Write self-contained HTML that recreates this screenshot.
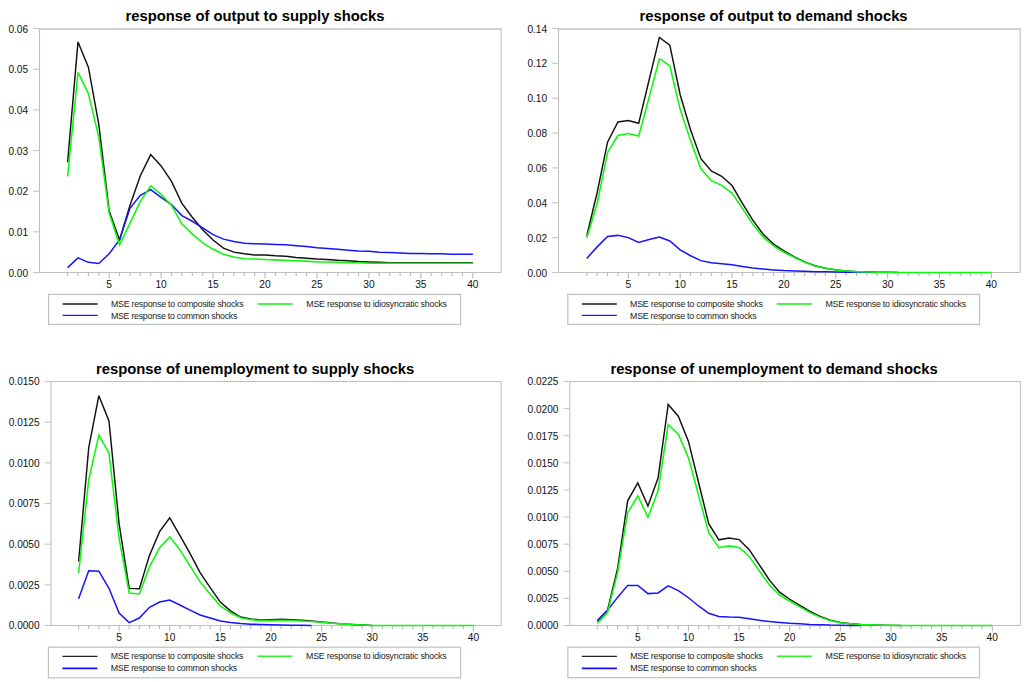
<!DOCTYPE html>
<html><head><meta charset="utf-8"><style>
html,body{margin:0;padding:0;background:#fff;}
svg{display:block;}
text{font-family:"Liberation Sans",sans-serif;}
.tt{font-weight:bold;font-size:14.8px;text-anchor:middle;fill:#000;}
.yl{font-size:10.1px;text-anchor:end;fill:#111;}
.xl{font-size:10.2px;text-anchor:middle;fill:#111;}
.lg{font-size:8.8px;fill:#222;}
</style></head><body>
<svg width="1024" height="682" viewBox="0 0 1024 682">
<rect width="1024" height="682" fill="#fff"/>
<path d="M39.5 29H501.2" fill="none" stroke="#d2d2d2" stroke-width="2"/>
<path d="M501.2 28.5V272.5" fill="none" stroke="#c0c0c0" stroke-width="1.1"/>
<path d="M39.5 28.5V272.5" fill="none" stroke="#c0c0c0" stroke-width="1.1"/>
<path d="M33.2 272.5H501.2" fill="none" stroke="#c0c0c0" stroke-width="1.1"/>
<path d="M33.2 272.5H39.5" stroke="#c6c6c6" stroke-width="1.1"/>
<text x="28.1" y="276.5" class="yl">0.00</text>
<path d="M33.2 231.83H39.5" stroke="#c6c6c6" stroke-width="1.1"/>
<text x="28.1" y="235.83" class="yl">0.01</text>
<path d="M33.2 191.17H39.5" stroke="#c6c6c6" stroke-width="1.1"/>
<text x="28.1" y="195.17" class="yl">0.02</text>
<path d="M33.2 150.5H39.5" stroke="#c6c6c6" stroke-width="1.1"/>
<text x="28.1" y="154.5" class="yl">0.03</text>
<path d="M33.2 109.83H39.5" stroke="#c6c6c6" stroke-width="1.1"/>
<text x="28.1" y="113.83" class="yl">0.04</text>
<path d="M33.2 69.17H39.5" stroke="#c6c6c6" stroke-width="1.1"/>
<text x="28.1" y="73.17" class="yl">0.05</text>
<path d="M33.2 28.5H39.5" stroke="#c6c6c6" stroke-width="1.1"/>
<text x="28.1" y="32.5" class="yl">0.06</text>
<path d="M67.6 272.5V275.9" stroke="#b8b8b8" stroke-width="1.1"/>
<path d="M77.99 272.5V275.9" stroke="#b8b8b8" stroke-width="1.1"/>
<path d="M88.38 272.5V275.9" stroke="#b8b8b8" stroke-width="1.1"/>
<path d="M98.77 272.5V275.9" stroke="#b8b8b8" stroke-width="1.1"/>
<path d="M109.16 272.5V278.6" stroke="#b8b8b8" stroke-width="1.1"/>
<text x="109.16" y="287.7" class="xl">5</text>
<path d="M119.55 272.5V275.9" stroke="#b8b8b8" stroke-width="1.1"/>
<path d="M129.94 272.5V275.9" stroke="#b8b8b8" stroke-width="1.1"/>
<path d="M140.33 272.5V275.9" stroke="#b8b8b8" stroke-width="1.1"/>
<path d="M150.72 272.5V275.9" stroke="#b8b8b8" stroke-width="1.1"/>
<path d="M161.11 272.5V278.6" stroke="#b8b8b8" stroke-width="1.1"/>
<text x="161.11" y="287.7" class="xl">10</text>
<path d="M171.5 272.5V275.9" stroke="#b8b8b8" stroke-width="1.1"/>
<path d="M181.89 272.5V275.9" stroke="#b8b8b8" stroke-width="1.1"/>
<path d="M192.28 272.5V275.9" stroke="#b8b8b8" stroke-width="1.1"/>
<path d="M202.67 272.5V275.9" stroke="#b8b8b8" stroke-width="1.1"/>
<path d="M213.06 272.5V278.6" stroke="#b8b8b8" stroke-width="1.1"/>
<text x="213.06" y="287.7" class="xl">15</text>
<path d="M223.45 272.5V275.9" stroke="#b8b8b8" stroke-width="1.1"/>
<path d="M233.84 272.5V275.9" stroke="#b8b8b8" stroke-width="1.1"/>
<path d="M244.23 272.5V275.9" stroke="#b8b8b8" stroke-width="1.1"/>
<path d="M254.62 272.5V275.9" stroke="#b8b8b8" stroke-width="1.1"/>
<path d="M265.01 272.5V278.6" stroke="#b8b8b8" stroke-width="1.1"/>
<text x="265.01" y="287.7" class="xl">20</text>
<path d="M275.4 272.5V275.9" stroke="#b8b8b8" stroke-width="1.1"/>
<path d="M285.79 272.5V275.9" stroke="#b8b8b8" stroke-width="1.1"/>
<path d="M296.18 272.5V275.9" stroke="#b8b8b8" stroke-width="1.1"/>
<path d="M306.57 272.5V275.9" stroke="#b8b8b8" stroke-width="1.1"/>
<path d="M316.96 272.5V278.6" stroke="#b8b8b8" stroke-width="1.1"/>
<text x="316.96" y="287.7" class="xl">25</text>
<path d="M327.35 272.5V275.9" stroke="#b8b8b8" stroke-width="1.1"/>
<path d="M337.74 272.5V275.9" stroke="#b8b8b8" stroke-width="1.1"/>
<path d="M348.13 272.5V275.9" stroke="#b8b8b8" stroke-width="1.1"/>
<path d="M358.52 272.5V275.9" stroke="#b8b8b8" stroke-width="1.1"/>
<path d="M368.91 272.5V278.6" stroke="#b8b8b8" stroke-width="1.1"/>
<text x="368.91" y="287.7" class="xl">30</text>
<path d="M379.3 272.5V275.9" stroke="#b8b8b8" stroke-width="1.1"/>
<path d="M389.69 272.5V275.9" stroke="#b8b8b8" stroke-width="1.1"/>
<path d="M400.08 272.5V275.9" stroke="#b8b8b8" stroke-width="1.1"/>
<path d="M410.47 272.5V275.9" stroke="#b8b8b8" stroke-width="1.1"/>
<path d="M420.86 272.5V278.6" stroke="#b8b8b8" stroke-width="1.1"/>
<text x="420.86" y="287.7" class="xl">35</text>
<path d="M431.25 272.5V275.9" stroke="#b8b8b8" stroke-width="1.1"/>
<path d="M441.64 272.5V275.9" stroke="#b8b8b8" stroke-width="1.1"/>
<path d="M452.03 272.5V275.9" stroke="#b8b8b8" stroke-width="1.1"/>
<path d="M462.42 272.5V275.9" stroke="#b8b8b8" stroke-width="1.1"/>
<path d="M472.81 272.5V278.6" stroke="#b8b8b8" stroke-width="1.1"/>
<text x="472.81" y="287.7" class="xl">40</text>
<text x="255" y="20.5" class="tt">response of output to supply shocks</text>
<polyline points="67.6,162.29 77.99,41.92 88.38,67.13 98.77,124.07 109.16,211.09 119.55,239.97 129.94,205.4 140.33,175.71 150.72,154.57 161.11,165.95 171.5,181.41 181.89,203.37 192.28,217.19 202.67,229.8 213.06,239.97 223.45,248.1 233.84,252.17 244.23,253.79 254.62,255.01 265.01,255.01 275.4,255.83 285.79,256.23 296.18,257.45 306.57,258.27 316.96,259.08 327.35,259.49 337.74,260.3 348.13,260.71 358.52,261.52 368.91,261.93 379.3,262.33 389.69,262.74 400.08,262.74 410.47,262.74 420.86,262.74 431.25,262.74 441.64,262.74 452.03,262.74 462.42,262.74 472.81,262.74" fill="none" stroke="#111111" stroke-width="1.45" stroke-linejoin="miter" stroke-miterlimit="3"/>
<polyline points="67.6,267.62 77.99,257.86 88.38,262.33 98.77,263.55 109.16,253.79 119.55,239.97 129.94,208.25 140.33,195.23 150.72,189.54 161.11,197.27 171.5,204.59 181.89,215.57 192.28,221.26 202.67,227.77 213.06,234.68 223.45,239.15 233.84,241.59 244.23,243.22 254.62,243.63 265.01,244.03 275.4,244.44 285.79,244.85 296.18,245.66 306.57,246.47 316.96,247.69 327.35,248.51 337.74,249.32 348.13,250.13 358.52,250.95 368.91,251.35 379.3,252.17 389.69,252.57 400.08,252.98 410.47,253.39 420.86,253.39 431.25,253.79 441.64,253.79 452.03,254.2 462.42,254.2 472.81,254.2" fill="none" stroke="#1414ff" stroke-width="1.5" stroke-linejoin="miter" stroke-miterlimit="3"/>
<polyline points="67.6,176.53 77.99,72.42 88.38,93.57 98.77,137.08 109.16,213.13 119.55,244.85 129.94,223.29 140.33,201.33 150.72,185.88 161.11,194.42 171.5,205.4 181.89,224.11 192.28,233.87 202.67,242.81 213.06,249.32 223.45,254.2 233.84,257.05 244.23,258.67 254.62,259.08 265.01,259.49 275.4,259.89 285.79,260.3 296.18,260.71 306.57,261.11 316.96,261.93 327.35,261.93 337.74,262.33 348.13,262.74 358.52,262.74 368.91,263.15 379.3,263.15 389.69,263.15 400.08,263.15 410.47,263.15 420.86,263.15 431.25,263.15 441.64,263.15 452.03,263.15 462.42,263.15 472.81,263.15" fill="none" stroke="#0cf80c" stroke-width="1.55" stroke-linejoin="miter" stroke-miterlimit="3"/>
<rect x="48.6" y="294.4" width="412" height="30" fill="none" stroke="#c0c0c0" stroke-width="1.2"/>
<path d="M62.6 304h35" stroke="#555" stroke-width="2"/>
<path d="M62.6 315.4h35" stroke="#1a1aff" stroke-width="1.4"/>
<path d="M257.6 304h35" stroke="#50f050" stroke-width="2"/>
<text x="110.9" y="307.2" class="lg" textLength="132.8">MSE response to composite shocks</text>
<text x="110.9" y="318.6" class="lg" textLength="126.5">MSE response to common shocks</text>
<text x="306.3" y="307.2" class="lg" textLength="140.6">MSE response to idiosyncratic shocks</text>
<path d="M558.5 29H1020.2" fill="none" stroke="#d2d2d2" stroke-width="2"/>
<path d="M1020.2 28.5V272.5" fill="none" stroke="#c0c0c0" stroke-width="1.1"/>
<path d="M558.5 28.5V272.5" fill="none" stroke="#c0c0c0" stroke-width="1.1"/>
<path d="M552.2 272.5H1020.2" fill="none" stroke="#c0c0c0" stroke-width="1.1"/>
<path d="M552.2 272.5H558.5" stroke="#c6c6c6" stroke-width="1.1"/>
<text x="547.1" y="276.5" class="yl">0.00</text>
<path d="M552.2 237.64H558.5" stroke="#c6c6c6" stroke-width="1.1"/>
<text x="547.1" y="241.64" class="yl">0.02</text>
<path d="M552.2 202.79H558.5" stroke="#c6c6c6" stroke-width="1.1"/>
<text x="547.1" y="206.79" class="yl">0.04</text>
<path d="M552.2 167.93H558.5" stroke="#c6c6c6" stroke-width="1.1"/>
<text x="547.1" y="171.93" class="yl">0.06</text>
<path d="M552.2 133.07H558.5" stroke="#c6c6c6" stroke-width="1.1"/>
<text x="547.1" y="137.07" class="yl">0.08</text>
<path d="M552.2 98.21H558.5" stroke="#c6c6c6" stroke-width="1.1"/>
<text x="547.1" y="102.21" class="yl">0.10</text>
<path d="M552.2 63.36H558.5" stroke="#c6c6c6" stroke-width="1.1"/>
<text x="547.1" y="67.36" class="yl">0.12</text>
<path d="M552.2 28.5H558.5" stroke="#c6c6c6" stroke-width="1.1"/>
<text x="547.1" y="32.5" class="yl">0.14</text>
<path d="M586.8 272.5V275.9" stroke="#b8b8b8" stroke-width="1.1"/>
<path d="M597.17 272.5V275.9" stroke="#b8b8b8" stroke-width="1.1"/>
<path d="M607.55 272.5V275.9" stroke="#b8b8b8" stroke-width="1.1"/>
<path d="M617.92 272.5V275.9" stroke="#b8b8b8" stroke-width="1.1"/>
<path d="M628.3 272.5V278.6" stroke="#b8b8b8" stroke-width="1.1"/>
<text x="628.3" y="287.7" class="xl">5</text>
<path d="M638.67 272.5V275.9" stroke="#b8b8b8" stroke-width="1.1"/>
<path d="M649.04 272.5V275.9" stroke="#b8b8b8" stroke-width="1.1"/>
<path d="M659.42 272.5V275.9" stroke="#b8b8b8" stroke-width="1.1"/>
<path d="M669.79 272.5V275.9" stroke="#b8b8b8" stroke-width="1.1"/>
<path d="M680.17 272.5V278.6" stroke="#b8b8b8" stroke-width="1.1"/>
<text x="680.17" y="287.7" class="xl">10</text>
<path d="M690.54 272.5V275.9" stroke="#b8b8b8" stroke-width="1.1"/>
<path d="M700.91 272.5V275.9" stroke="#b8b8b8" stroke-width="1.1"/>
<path d="M711.29 272.5V275.9" stroke="#b8b8b8" stroke-width="1.1"/>
<path d="M721.66 272.5V275.9" stroke="#b8b8b8" stroke-width="1.1"/>
<path d="M732.04 272.5V278.6" stroke="#b8b8b8" stroke-width="1.1"/>
<text x="732.04" y="287.7" class="xl">15</text>
<path d="M742.41 272.5V275.9" stroke="#b8b8b8" stroke-width="1.1"/>
<path d="M752.78 272.5V275.9" stroke="#b8b8b8" stroke-width="1.1"/>
<path d="M763.16 272.5V275.9" stroke="#b8b8b8" stroke-width="1.1"/>
<path d="M773.53 272.5V275.9" stroke="#b8b8b8" stroke-width="1.1"/>
<path d="M783.91 272.5V278.6" stroke="#b8b8b8" stroke-width="1.1"/>
<text x="783.91" y="287.7" class="xl">20</text>
<path d="M794.28 272.5V275.9" stroke="#b8b8b8" stroke-width="1.1"/>
<path d="M804.65 272.5V275.9" stroke="#b8b8b8" stroke-width="1.1"/>
<path d="M815.03 272.5V275.9" stroke="#b8b8b8" stroke-width="1.1"/>
<path d="M825.4 272.5V275.9" stroke="#b8b8b8" stroke-width="1.1"/>
<path d="M835.78 272.5V278.6" stroke="#b8b8b8" stroke-width="1.1"/>
<text x="835.78" y="287.7" class="xl">25</text>
<path d="M846.15 272.5V275.9" stroke="#b8b8b8" stroke-width="1.1"/>
<path d="M856.52 272.5V275.9" stroke="#b8b8b8" stroke-width="1.1"/>
<path d="M866.9 272.5V275.9" stroke="#b8b8b8" stroke-width="1.1"/>
<path d="M877.27 272.5V275.9" stroke="#b8b8b8" stroke-width="1.1"/>
<path d="M887.65 272.5V278.6" stroke="#b8b8b8" stroke-width="1.1"/>
<text x="887.65" y="287.7" class="xl">30</text>
<path d="M898.02 272.5V275.9" stroke="#b8b8b8" stroke-width="1.1"/>
<path d="M908.39 272.5V275.9" stroke="#b8b8b8" stroke-width="1.1"/>
<path d="M918.77 272.5V275.9" stroke="#b8b8b8" stroke-width="1.1"/>
<path d="M929.14 272.5V275.9" stroke="#b8b8b8" stroke-width="1.1"/>
<path d="M939.52 272.5V278.6" stroke="#b8b8b8" stroke-width="1.1"/>
<text x="939.52" y="287.7" class="xl">35</text>
<path d="M949.89 272.5V275.9" stroke="#b8b8b8" stroke-width="1.1"/>
<path d="M960.26 272.5V275.9" stroke="#b8b8b8" stroke-width="1.1"/>
<path d="M970.64 272.5V275.9" stroke="#b8b8b8" stroke-width="1.1"/>
<path d="M981.01 272.5V275.9" stroke="#b8b8b8" stroke-width="1.1"/>
<path d="M991.39 272.5V278.6" stroke="#b8b8b8" stroke-width="1.1"/>
<text x="991.39" y="287.7" class="xl">40</text>
<text x="773.6" y="20.5" class="tt">response of output to demand shocks</text>
<polyline points="586.8,235.55 597.17,192.5 607.55,142.13 617.92,121.92 628.3,120.52 638.67,123.31 649.04,80.26 659.42,37.39 669.79,45.06 680.17,94.73 690.54,129.76 700.91,158.69 711.29,170.89 721.66,176.29 732.04,185.53 742.41,203.48 752.78,220.21 763.16,234.16 773.53,244.09 783.91,250.89 794.28,256.81 804.65,261.87 815.03,265.7 825.4,268.32 835.78,269.89 846.15,270.93 856.52,271.63 866.9,271.98 877.27,272.15 887.65,272.33 898.02,272.5" fill="none" stroke="#111111" stroke-width="1.45" stroke-linejoin="miter" stroke-miterlimit="3"/>
<polyline points="586.8,258.38 597.17,246.88 607.55,236.42 617.92,235.38 628.3,237.64 638.67,242.35 649.04,239.56 659.42,236.95 669.79,240.95 680.17,249.84 690.54,255.77 700.91,260.65 711.29,262.74 721.66,263.79 732.04,264.83 742.41,266.4 752.78,267.97 763.16,269.01 773.53,269.89 783.91,270.58 794.28,270.93 804.65,271.28 815.03,271.63 825.4,271.8 835.78,271.98 846.15,272.15 856.52,272.33 866.9,272.33 877.27,272.5" fill="none" stroke="#1414ff" stroke-width="1.5" stroke-linejoin="miter" stroke-miterlimit="3"/>
<polyline points="586.8,237.99 597.17,203.48 607.55,152.42 617.92,135.51 628.3,133.42 638.67,136.03 649.04,97.69 659.42,58.65 669.79,65.8 680.17,109.37 690.54,140.39 700.91,168.8 711.29,180.65 721.66,185.36 732.04,193.03 742.41,208.36 752.78,224.22 763.16,236.95 773.53,245.83 783.91,252.28 794.28,257.34 804.65,262.22 815.03,265.88 825.4,268.32 835.78,269.89 846.15,270.93 856.52,271.63 866.9,271.98 877.27,272.15 887.65,272.33 898.02,272.5 908.39,272.5 918.77,272.5 929.14,272.5 939.52,272.5 949.89,272.5 960.26,272.5 970.64,272.5 981.01,272.5 991.39,272.5" fill="none" stroke="#0cf80c" stroke-width="1.55" stroke-linejoin="miter" stroke-miterlimit="3"/>
<rect x="567.8" y="294.4" width="411.8" height="30" fill="none" stroke="#c0c0c0" stroke-width="1.2"/>
<path d="M581.8 304h35" stroke="#555" stroke-width="2"/>
<path d="M581.8 315.4h35" stroke="#1a1aff" stroke-width="1.4"/>
<path d="M776.8 304h35" stroke="#50f050" stroke-width="2"/>
<text x="630.1" y="307.2" class="lg" textLength="132.8">MSE response to composite shocks</text>
<text x="630.1" y="318.6" class="lg" textLength="126.5">MSE response to common shocks</text>
<text x="825.5" y="307.2" class="lg" textLength="140.6">MSE response to idiosyncratic shocks</text>
<path d="M51 381.5H501.2" fill="none" stroke="#bebebe" stroke-width="1.1"/>
<path d="M501.2 381.5V625.5" fill="none" stroke="#c0c0c0" stroke-width="1.1"/>
<path d="M51 381.5V625.5" fill="none" stroke="#c0c0c0" stroke-width="1.1"/>
<path d="M44.7 625.5H501.2" fill="none" stroke="#c0c0c0" stroke-width="1.1"/>
<path d="M44.7 625.5H51" stroke="#c6c6c6" stroke-width="1.1"/>
<text x="39.6" y="629.4" class="yl">0.0000</text>
<path d="M44.7 584.83H51" stroke="#c6c6c6" stroke-width="1.1"/>
<text x="39.6" y="588.73" class="yl">0.0025</text>
<path d="M44.7 544.17H51" stroke="#c6c6c6" stroke-width="1.1"/>
<text x="39.6" y="548.07" class="yl">0.0050</text>
<path d="M44.7 503.5H51" stroke="#c6c6c6" stroke-width="1.1"/>
<text x="39.6" y="507.4" class="yl">0.0075</text>
<path d="M44.7 462.83H51" stroke="#c6c6c6" stroke-width="1.1"/>
<text x="39.6" y="466.73" class="yl">0.0100</text>
<path d="M44.7 422.17H51" stroke="#c6c6c6" stroke-width="1.1"/>
<text x="39.6" y="426.07" class="yl">0.0125</text>
<path d="M44.7 381.5H51" stroke="#c6c6c6" stroke-width="1.1"/>
<text x="39.6" y="385.4" class="yl">0.0150</text>
<path d="M78.6 625.5V628.9" stroke="#b8b8b8" stroke-width="1.1"/>
<path d="M88.72 625.5V628.9" stroke="#b8b8b8" stroke-width="1.1"/>
<path d="M98.85 625.5V628.9" stroke="#b8b8b8" stroke-width="1.1"/>
<path d="M108.97 625.5V628.9" stroke="#b8b8b8" stroke-width="1.1"/>
<path d="M119.1 625.5V631.6" stroke="#b8b8b8" stroke-width="1.1"/>
<text x="119.1" y="640.7" class="xl">5</text>
<path d="M129.22 625.5V628.9" stroke="#b8b8b8" stroke-width="1.1"/>
<path d="M139.35 625.5V628.9" stroke="#b8b8b8" stroke-width="1.1"/>
<path d="M149.47 625.5V628.9" stroke="#b8b8b8" stroke-width="1.1"/>
<path d="M159.6 625.5V628.9" stroke="#b8b8b8" stroke-width="1.1"/>
<path d="M169.72 625.5V631.6" stroke="#b8b8b8" stroke-width="1.1"/>
<text x="169.72" y="640.7" class="xl">10</text>
<path d="M179.85 625.5V628.9" stroke="#b8b8b8" stroke-width="1.1"/>
<path d="M189.97 625.5V628.9" stroke="#b8b8b8" stroke-width="1.1"/>
<path d="M200.1 625.5V628.9" stroke="#b8b8b8" stroke-width="1.1"/>
<path d="M210.22 625.5V628.9" stroke="#b8b8b8" stroke-width="1.1"/>
<path d="M220.35 625.5V631.6" stroke="#b8b8b8" stroke-width="1.1"/>
<text x="220.35" y="640.7" class="xl">15</text>
<path d="M230.47 625.5V628.9" stroke="#b8b8b8" stroke-width="1.1"/>
<path d="M240.6 625.5V628.9" stroke="#b8b8b8" stroke-width="1.1"/>
<path d="M250.72 625.5V628.9" stroke="#b8b8b8" stroke-width="1.1"/>
<path d="M260.85 625.5V628.9" stroke="#b8b8b8" stroke-width="1.1"/>
<path d="M270.98 625.5V631.6" stroke="#b8b8b8" stroke-width="1.1"/>
<text x="270.98" y="640.7" class="xl">20</text>
<path d="M281.1 625.5V628.9" stroke="#b8b8b8" stroke-width="1.1"/>
<path d="M291.23 625.5V628.9" stroke="#b8b8b8" stroke-width="1.1"/>
<path d="M301.35 625.5V628.9" stroke="#b8b8b8" stroke-width="1.1"/>
<path d="M311.48 625.5V628.9" stroke="#b8b8b8" stroke-width="1.1"/>
<path d="M321.6 625.5V631.6" stroke="#b8b8b8" stroke-width="1.1"/>
<text x="321.6" y="640.7" class="xl">25</text>
<path d="M331.73 625.5V628.9" stroke="#b8b8b8" stroke-width="1.1"/>
<path d="M341.85 625.5V628.9" stroke="#b8b8b8" stroke-width="1.1"/>
<path d="M351.98 625.5V628.9" stroke="#b8b8b8" stroke-width="1.1"/>
<path d="M362.1 625.5V628.9" stroke="#b8b8b8" stroke-width="1.1"/>
<path d="M372.23 625.5V631.6" stroke="#b8b8b8" stroke-width="1.1"/>
<text x="372.23" y="640.7" class="xl">30</text>
<path d="M382.35 625.5V628.9" stroke="#b8b8b8" stroke-width="1.1"/>
<path d="M392.48 625.5V628.9" stroke="#b8b8b8" stroke-width="1.1"/>
<path d="M402.6 625.5V628.9" stroke="#b8b8b8" stroke-width="1.1"/>
<path d="M412.73 625.5V628.9" stroke="#b8b8b8" stroke-width="1.1"/>
<path d="M422.85 625.5V631.6" stroke="#b8b8b8" stroke-width="1.1"/>
<text x="422.85" y="640.7" class="xl">35</text>
<path d="M432.98 625.5V628.9" stroke="#b8b8b8" stroke-width="1.1"/>
<path d="M443.1 625.5V628.9" stroke="#b8b8b8" stroke-width="1.1"/>
<path d="M453.23 625.5V628.9" stroke="#b8b8b8" stroke-width="1.1"/>
<path d="M463.35 625.5V628.9" stroke="#b8b8b8" stroke-width="1.1"/>
<path d="M473.48 625.5V631.6" stroke="#b8b8b8" stroke-width="1.1"/>
<text x="473.48" y="640.7" class="xl">40</text>
<text x="255.1" y="374" class="tt">response of unemployment to supply shocks</text>
<polyline points="78.6,561.57 88.72,447.87 98.85,395.65 108.97,420.87 119.1,523.83 129.22,588.41 139.35,588.74 149.47,555.39 159.6,531.64 169.72,517.81 179.85,535.38 189.97,553.44 200.1,572.63 210.22,587.6 220.35,602.08 230.47,610.86 240.6,617.04 250.72,618.99 260.85,619.97 270.98,619.64 281.1,619.32 291.23,619.64 301.35,620.29 311.48,620.95 321.6,621.92 331.73,623.06 341.85,623.87 351.98,624.52 362.1,625.01 372.23,625.5" fill="none" stroke="#111111" stroke-width="1.45" stroke-linejoin="miter" stroke-miterlimit="3"/>
<polyline points="78.6,598.82 88.72,570.68 98.85,571.17 108.97,588.25 119.1,612.97 129.22,622.57 139.35,618.02 149.47,607.28 159.6,602.08 169.72,600.12 179.85,605 189.97,610.05 200.1,614.93 210.22,618.02 220.35,620.95 230.47,622.57 240.6,623.55 250.72,624.2 260.85,624.52 270.98,624.85 281.1,625.01 291.23,625.17 301.35,625.34 311.48,625.5" fill="none" stroke="#1414ff" stroke-width="1.5" stroke-linejoin="miter" stroke-miterlimit="3"/>
<polyline points="78.6,572.96 88.72,479.75 98.85,435.02 108.97,453.07 119.1,538.47 129.22,592.97 139.35,593.94 149.47,566.94 159.6,547.75 169.72,536.85 179.85,549.7 189.97,565.96 200.1,581.91 210.22,594.27 220.35,605.98 230.47,612.81 240.6,617.69 250.72,619.64 260.85,620.62 270.98,620.62 281.1,620.29 291.23,620.46 301.35,620.95 311.48,621.43 321.6,622.25 331.73,623.22 341.85,623.87 351.98,624.52 362.1,625.01 372.23,625.5 382.35,625.5 392.48,625.5 402.6,625.5 412.73,625.5 422.85,625.5 432.98,625.5 443.1,625.5 453.23,625.5 463.35,625.5 473.48,625.5" fill="none" stroke="#0cf80c" stroke-width="1.55" stroke-linejoin="miter" stroke-miterlimit="3"/>
<rect x="48.4" y="647.2" width="412.2" height="30.6" fill="none" stroke="#c0c0c0" stroke-width="1.2"/>
<path d="M62.4 656.3h35" stroke="#222" stroke-width="1.3"/>
<path d="M62.4 668.4h35" stroke="#1010ff" stroke-width="1.6"/>
<path d="M257.4 656.3h35" stroke="#30f030" stroke-width="1.5"/>
<text x="110.7" y="659.2" class="lg" textLength="132.8">MSE response to composite shocks</text>
<text x="110.7" y="671.3" class="lg" textLength="126.5">MSE response to common shocks</text>
<text x="306.1" y="659.2" class="lg" textLength="140.6">MSE response to idiosyncratic shocks</text>
<path d="M569.8 381.5H1020.5" fill="none" stroke="#bebebe" stroke-width="1.1"/>
<path d="M1020.5 381.5V625.5" fill="none" stroke="#c0c0c0" stroke-width="1.1"/>
<path d="M569.8 381.5V625.5" fill="none" stroke="#c0c0c0" stroke-width="1.1"/>
<path d="M563.5 625.5H1020.5" fill="none" stroke="#c0c0c0" stroke-width="1.1"/>
<path d="M563.5 625.5H569.8" stroke="#c6c6c6" stroke-width="1.1"/>
<text x="558.4" y="629.4" class="yl">0.0000</text>
<path d="M563.5 598.39H569.8" stroke="#c6c6c6" stroke-width="1.1"/>
<text x="558.4" y="602.29" class="yl">0.0025</text>
<path d="M563.5 571.28H569.8" stroke="#c6c6c6" stroke-width="1.1"/>
<text x="558.4" y="575.18" class="yl">0.0050</text>
<path d="M563.5 544.17H569.8" stroke="#c6c6c6" stroke-width="1.1"/>
<text x="558.4" y="548.07" class="yl">0.0075</text>
<path d="M563.5 517.06H569.8" stroke="#c6c6c6" stroke-width="1.1"/>
<text x="558.4" y="520.96" class="yl">0.0100</text>
<path d="M563.5 489.94H569.8" stroke="#c6c6c6" stroke-width="1.1"/>
<text x="558.4" y="493.84" class="yl">0.0125</text>
<path d="M563.5 462.83H569.8" stroke="#c6c6c6" stroke-width="1.1"/>
<text x="558.4" y="466.73" class="yl">0.0150</text>
<path d="M563.5 435.72H569.8" stroke="#c6c6c6" stroke-width="1.1"/>
<text x="558.4" y="439.62" class="yl">0.0175</text>
<path d="M563.5 408.61H569.8" stroke="#c6c6c6" stroke-width="1.1"/>
<text x="558.4" y="412.51" class="yl">0.0200</text>
<path d="M563.5 381.5H569.8" stroke="#c6c6c6" stroke-width="1.1"/>
<text x="558.4" y="385.4" class="yl">0.0225</text>
<path d="M597.3 625.5V628.9" stroke="#b8b8b8" stroke-width="1.1"/>
<path d="M607.43 625.5V628.9" stroke="#b8b8b8" stroke-width="1.1"/>
<path d="M617.56 625.5V628.9" stroke="#b8b8b8" stroke-width="1.1"/>
<path d="M627.68 625.5V628.9" stroke="#b8b8b8" stroke-width="1.1"/>
<path d="M637.81 625.5V631.6" stroke="#b8b8b8" stroke-width="1.1"/>
<text x="637.81" y="640.7" class="xl">5</text>
<path d="M647.94 625.5V628.9" stroke="#b8b8b8" stroke-width="1.1"/>
<path d="M658.07 625.5V628.9" stroke="#b8b8b8" stroke-width="1.1"/>
<path d="M668.2 625.5V628.9" stroke="#b8b8b8" stroke-width="1.1"/>
<path d="M678.32 625.5V628.9" stroke="#b8b8b8" stroke-width="1.1"/>
<path d="M688.45 625.5V631.6" stroke="#b8b8b8" stroke-width="1.1"/>
<text x="688.45" y="640.7" class="xl">10</text>
<path d="M698.58 625.5V628.9" stroke="#b8b8b8" stroke-width="1.1"/>
<path d="M708.71 625.5V628.9" stroke="#b8b8b8" stroke-width="1.1"/>
<path d="M718.84 625.5V628.9" stroke="#b8b8b8" stroke-width="1.1"/>
<path d="M728.96 625.5V628.9" stroke="#b8b8b8" stroke-width="1.1"/>
<path d="M739.09 625.5V631.6" stroke="#b8b8b8" stroke-width="1.1"/>
<text x="739.09" y="640.7" class="xl">15</text>
<path d="M749.22 625.5V628.9" stroke="#b8b8b8" stroke-width="1.1"/>
<path d="M759.35 625.5V628.9" stroke="#b8b8b8" stroke-width="1.1"/>
<path d="M769.48 625.5V628.9" stroke="#b8b8b8" stroke-width="1.1"/>
<path d="M779.6 625.5V628.9" stroke="#b8b8b8" stroke-width="1.1"/>
<path d="M789.73 625.5V631.6" stroke="#b8b8b8" stroke-width="1.1"/>
<text x="789.73" y="640.7" class="xl">20</text>
<path d="M799.86 625.5V628.9" stroke="#b8b8b8" stroke-width="1.1"/>
<path d="M809.99 625.5V628.9" stroke="#b8b8b8" stroke-width="1.1"/>
<path d="M820.12 625.5V628.9" stroke="#b8b8b8" stroke-width="1.1"/>
<path d="M830.24 625.5V628.9" stroke="#b8b8b8" stroke-width="1.1"/>
<path d="M840.37 625.5V631.6" stroke="#b8b8b8" stroke-width="1.1"/>
<text x="840.37" y="640.7" class="xl">25</text>
<path d="M850.5 625.5V628.9" stroke="#b8b8b8" stroke-width="1.1"/>
<path d="M860.63 625.5V628.9" stroke="#b8b8b8" stroke-width="1.1"/>
<path d="M870.76 625.5V628.9" stroke="#b8b8b8" stroke-width="1.1"/>
<path d="M880.88 625.5V628.9" stroke="#b8b8b8" stroke-width="1.1"/>
<path d="M891.01 625.5V631.6" stroke="#b8b8b8" stroke-width="1.1"/>
<text x="891.01" y="640.7" class="xl">30</text>
<path d="M901.14 625.5V628.9" stroke="#b8b8b8" stroke-width="1.1"/>
<path d="M911.27 625.5V628.9" stroke="#b8b8b8" stroke-width="1.1"/>
<path d="M921.4 625.5V628.9" stroke="#b8b8b8" stroke-width="1.1"/>
<path d="M931.52 625.5V628.9" stroke="#b8b8b8" stroke-width="1.1"/>
<path d="M941.65 625.5V631.6" stroke="#b8b8b8" stroke-width="1.1"/>
<text x="941.65" y="640.7" class="xl">35</text>
<path d="M951.78 625.5V628.9" stroke="#b8b8b8" stroke-width="1.1"/>
<path d="M961.91 625.5V628.9" stroke="#b8b8b8" stroke-width="1.1"/>
<path d="M972.04 625.5V628.9" stroke="#b8b8b8" stroke-width="1.1"/>
<path d="M982.16 625.5V628.9" stroke="#b8b8b8" stroke-width="1.1"/>
<path d="M992.29 625.5V631.6" stroke="#b8b8b8" stroke-width="1.1"/>
<text x="992.29" y="640.7" class="xl">40</text>
<text x="774" y="374" class="tt">response of unemployment to demand shocks</text>
<polyline points="597.3,621.16 607.43,610.64 617.56,568.78 627.68,500.79 637.81,482.9 647.94,505.99 658.07,478.02 668.2,404.49 678.32,416.2 688.45,441.36 698.58,482.46 708.71,523.67 718.84,539.83 728.96,538.09 739.09,539.61 749.22,549.7 759.35,564.88 769.48,580.17 779.6,592.21 789.73,599.26 799.86,605.44 809.99,611.29 820.12,616.39 830.24,620.29 840.37,622.57 850.5,623.66 860.63,624.42 870.76,624.85 880.88,625.17 891.01,625.39 901.14,625.5" fill="none" stroke="#111111" stroke-width="1.45" stroke-linejoin="miter" stroke-miterlimit="3"/>
<polyline points="597.3,620.62 607.43,610.32 617.56,597.41 627.68,585.38 637.81,585.48 647.94,593.62 658.07,592.97 668.2,585.92 678.32,590.69 688.45,597.74 698.58,605.98 708.71,613.25 718.84,616.39 728.96,617.04 739.09,617.37 749.22,618.67 759.35,620.29 769.48,621.6 779.6,622.46 789.73,623.33 799.86,623.87 809.99,624.42 820.12,624.74 830.24,625.07 840.37,625.17 850.5,625.39 860.63,625.5" fill="none" stroke="#1414ff" stroke-width="1.5" stroke-linejoin="miter" stroke-miterlimit="3"/>
<polyline points="597.3,623.11 607.43,612.6 617.56,572.58 627.68,512.72 637.81,495.8 647.94,517.38 658.07,490.7 668.2,424.55 678.32,434.2 688.45,457.84 698.58,495.37 708.71,532.78 718.84,547.75 728.96,545.9 739.09,547.42 749.22,556.42 759.35,571.06 769.48,584.94 779.6,595.03 789.73,601.21 799.86,606.85 809.99,612.6 820.12,617.15 830.24,620.62 840.37,622.79 850.5,623.66 860.63,624.42 870.76,624.85 880.88,625.17 891.01,625.39 901.14,625.5 911.27,625.5 921.4,625.5 931.52,625.5 941.65,625.5 951.78,625.5 961.91,625.5 972.04,625.5 982.16,625.5 992.29,625.5" fill="none" stroke="#0cf80c" stroke-width="1.55" stroke-linejoin="miter" stroke-miterlimit="3"/>
<rect x="567.9" y="647.2" width="411.6" height="30.5" fill="none" stroke="#c0c0c0" stroke-width="1.2"/>
<path d="M581.9 656.3h35" stroke="#222" stroke-width="1.3"/>
<path d="M581.9 668.4h35" stroke="#1010ff" stroke-width="1.6"/>
<path d="M776.9 656.3h35" stroke="#30f030" stroke-width="1.5"/>
<text x="630.2" y="659.2" class="lg" textLength="132.8">MSE response to composite shocks</text>
<text x="630.2" y="671.3" class="lg" textLength="126.5">MSE response to common shocks</text>
<text x="825.6" y="659.2" class="lg" textLength="140.6">MSE response to idiosyncratic shocks</text>
</svg>
</body></html>
